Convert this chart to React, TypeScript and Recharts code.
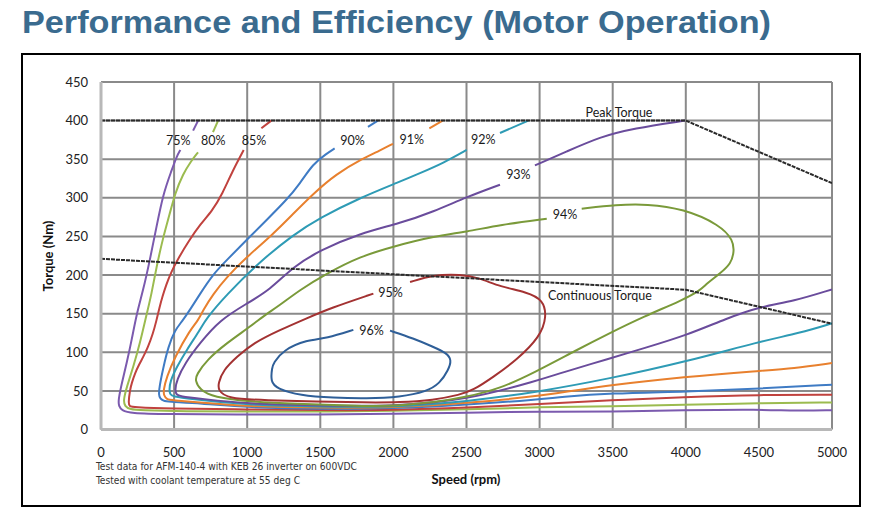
import React from 'react';
import { ComposedChart, Line, Scatter, XAxis, YAxis, CartesianGrid } from 'recharts';

type P = [number, number];

const speedTicks = [0, 500, 1000, 1500, 2000, 2500, 3000, 3500, 4000, 4500, 5000];
const torqueTicks = [0, 50, 100, 150, 200, 250, 300, 350, 400, 450];

const peakTorque: P[] = [[0, 400], [4000, 400], [5000, 319]];
const continuousTorque: P[] = [[0, 221], [2000, 201], [4000, 181], [5000, 137]];

const eff75a: P[] = [[630, 387], [664, 400]];
const eff75b: P[] = [[543, 362], [516, 353], [482, 335], [425, 305], [379, 262], [334, 219], [288, 180], [244, 150], [210, 116], [176, 86], [142, 60], [118, 38], [122, 30], [142, 25], [198, 21], [449, 20], [905, 19.5], [1500, 19.5], [2000, 20], [2500, 22], [2996, 23], [3495, 23], [3981, 25], [4507, 26], [4758, 24], [5000, 25]];

const eff80a: P[] = [[766, 385], [801, 400]];
const eff80b: P[] = [[664, 359], [618, 348], [561, 331], [505, 305], [470, 279], [425, 249], [379, 210], [345, 175], [313, 150], [267, 112], [221, 81], [176, 55], [153, 38], [162, 30], [200, 26], [267, 25], [563, 23.5], [1000, 23.5], [1500, 23], [2000, 24], [2500, 26], [3000, 29], [3495, 30], [3981, 32], [4507, 34], [5000, 35]];

const eff85a: P[] = [[1097, 390], [1165, 400]];
const eff85b: P[] = [[976, 362], [900, 335], [830, 305], [760, 283], [680, 266], [600, 244], [530, 222], [480, 204], [445, 187], [420, 172], [400, 158], [378, 140], [355, 124], [320, 106], [289, 94], [260, 84], [233, 73], [210, 60], [198, 51], [187, 34], [195, 30], [221, 29], [449, 27], [1000, 26], [1500, 25], [2000, 25], [2500, 28], [3000, 33], [3495, 38], [3981, 42], [4507, 45], [5000, 45]];

const eff90a: P[] = [[1826, 392], [1894, 400]];
const eff90b: P[] = [[1598, 364], [1541, 357], [1450, 344], [1359, 318], [1268, 297], [1131, 271], [994, 245], [858, 219], [766, 201], [675, 175], [609, 155], [555, 140], [506, 129], [460, 107], [427, 81], [399, 55], [395, 45], [404, 40], [430, 37], [449, 36], [677, 34], [1000, 28.5], [1500, 26.5], [2000, 27], [2500, 32], [3000, 39], [3140, 42], [3481, 47], [4006, 49], [4507, 53], [5000, 58]];

const eff91a: P[] = [[2246, 390], [2337, 400]];
const eff91b: P[] = [[1997, 370], [1905, 361], [1792, 351], [1609, 331], [1450, 305], [1313, 279], [1177, 253], [994, 223], [858, 197], [766, 175], [700, 155], [664, 141], [609, 129], [506, 94], [449, 68], [427, 51], [430, 44], [450, 39], [483, 38], [677, 35], [1000, 30], [1500, 28], [2000, 28], [2500, 34], [3000, 43], [3495, 58], [3981, 68], [4507, 76], [4735, 79], [5000, 86]];

const eff92a: P[] = [[2729, 384], [2923, 400]];
const eff92b: P[] = [[2501, 362], [2341, 345], [2182, 332], [2045, 321], [1771, 300], [1496, 274], [1313, 252], [1084, 217], [855, 174], [717, 143], [677, 129], [586, 103], [518, 81], [472, 62], [467, 51], [473, 45], [495, 43], [586, 40], [1000, 31.5], [1500, 29.5], [2000, 29], [2500, 36], [3000, 49], [3481, 66], [4006, 88], [4507, 114], [4781, 125], [5000, 137.5]];

const eff93a: P[] = [[2968, 342], [3185, 360], [3413, 379], [3641, 390], [3994, 400]];
const eff93b: P[] = [[2729, 317], [2501, 301], [2273, 282], [2045, 267], [1771, 254], [1498, 232], [1315, 211], [1156, 181], [997, 163], [814, 142], [677, 112], [575, 86], [518, 64], [506, 51], [515, 45], [540, 43], [677, 40], [1000, 33], [1500, 31], [2000, 30], [2500, 38], [3000, 64], [3140, 73], [3481, 92], [3709, 105], [4006, 122], [4280, 144], [4507, 159], [4735, 166], [5000, 181.5]];

const eff94: P[] = [[3288, 286], [3527, 291], [3733, 292], [3983, 286], [4234, 265], [4325, 245], [4330, 230], [4310, 215], [4234, 202], [4143, 189], [4097, 180], [3983, 168], [3709, 146], [3481, 125], [3254, 103], [2957, 73], [2729, 53], [2501, 42], [2273, 35], [2045, 31], [1817, 30], [1589, 32], [1361, 33], [1019, 36], [768, 42], [677, 51], [643, 64], [654, 71], [723, 90], [860, 112], [1019, 133], [1133, 150], [1202, 158], [1361, 181], [1544, 202], [1771, 224], [2000, 237], [2273, 250], [2501, 256], [2729, 265], [3049, 273]];

const eff95: P[] = [[2114, 191], [2273, 200], [2456, 201], [2592, 196], [2729, 185], [2912, 178], [3025, 168], [3049, 146], [3003, 120], [2843, 90], [2683, 68], [2547, 51], [2456, 45], [2273, 38], [2045, 35], [1800, 35], [1475, 36], [1133, 38], [860, 40], [802, 51], [802, 60], [837, 77], [928, 94], [1042, 112], [1224, 129], [1407, 144], [1566, 157], [1863, 176]];

const eff96: P[] = [[1977, 128], [2137, 118], [2273, 107], [2364, 99], [2399, 90], [2376, 77], [2319, 60], [2228, 49], [2045, 42], [1817, 40], [1589, 41], [1361, 44], [1202, 53], [1160, 62], [1170, 80], [1179, 86], [1247, 103], [1407, 116], [1544, 118], [1726, 129]];

const labelPoints = [
  { x: 529, y: 374, t: '75%' },
  { x: 768, y: 374, t: '80%' },
  { x: 1047, y: 374, t: '85%' },
  { x: 1721, y: 374, t: '90%' },
  { x: 2125, y: 375, t: '91%' },
  { x: 2615, y: 375, t: '92%' },
  { x: 2855, y: 330, t: '93%' },
  { x: 3174, y: 279, t: '94%' },
  { x: 1981, y: 177, t: '95%' },
  { x: 1851, y: 128, t: '96%' },
  { x: 3543, y: 411, t: 'Peak Torque' },
  { x: 3413, y: 173, t: 'Continuous Torque' },
];

const titleText = 'Performance and Efficiency (Motor Operation)';
const footnoteLines = ['Test data for AFM-140-4 with KEB 26 inverter on 600VDC', 'Tested with coolant temperature at 55 deg C'];

const toPts = (a: P[]) => a.map(([x, y]) => ({ x, y }));

const series: { d: P[]; c: string }[] = [
  { d: eff75a, c: '#7B5AAE' }, { d: eff75b, c: '#7B5AAE' },
  { d: eff80a, c: '#9BBB4F' }, { d: eff80b, c: '#9BBB4F' },
  { d: eff85a, c: '#C0423E' }, { d: eff85b, c: '#C0423E' },
  { d: eff90a, c: '#3F7BC4' }, { d: eff90b, c: '#3F7BC4' },
  { d: eff91a, c: '#E8802E' }, { d: eff91b, c: '#E8802E' },
  { d: eff92a, c: '#2E9BB5' }, { d: eff92b, c: '#2E9BB5' },
  { d: eff93a, c: '#6A4C9C' }, { d: eff93b, c: '#6A4C9C' },
  { d: eff94, c: '#7A9A3A' },
  { d: eff95, c: '#A33232' },
  { d: eff96, c: '#2F5F98' },
];

const labelFont = 'Lato, "Open Sans", sans-serif';

const LabelShape = (props: any) => {
  const { cx, cy, payload } = props;
  return (
    <text x={cx} y={cy} textAnchor="middle" dominantBaseline="central" fontFamily={labelFont} fontSize={12.5} fill="#1a1a1a">
      {payload.t}
    </text>
  );
};

export default function App() {
  return (
    <div style={{ position: 'absolute', left: 0, top: 0, width: 876, height: 522, background: '#fff', overflow: 'hidden' }}>
      <svg width={876} height={52} style={{ position: 'absolute', left: 0, top: 0 }}>
        <text x={22} y={33} textLength={749} lengthAdjust="spacingAndGlyphs" fontFamily='"Liberation Sans", Arial, sans-serif' fontWeight="bold" fontSize={32} fill="#3A6B8F">
          {titleText}
        </text>
      </svg>
      <div style={{ position: 'absolute', left: 21, top: 53, width: 840, height: 454, border: '2px solid #000', boxSizing: 'border-box' }} />
      <div style={{ position: 'absolute', left: 0, top: 0 }}>
        <ComposedChart width={876} height={522} margin={{ top: 82, right: 44, bottom: 52.5, left: 41 }}>
          <CartesianGrid stroke="#8a8a8a" strokeWidth={2} />
          <XAxis
            type="number"
            dataKey="x"
            domain={[0, 5000]}
            ticks={speedTicks}
            allowDataOverflow
            height={40}
            tickLine={false}
            tickSize={0}
            tickMargin={18}
            axisLine={{ stroke: '#b8b8b8', strokeWidth: 3 }}
            tick={{ fontFamily: labelFont, fontSize: 13, fill: '#222' }}
          />
          <YAxis
            type="number"
            dataKey="y"
            domain={[0, 450]}
            ticks={torqueTicks}
            allowDataOverflow
            width={60}
            tickLine={false}
            tickSize={0}
            tickMargin={13}
            axisLine={{ stroke: '#b8b8b8', strokeWidth: 3 }}
            tick={{ fontFamily: labelFont, fontSize: 13, fill: '#222' }}
          />
          {series.map((s, i) => (
            <Line
              key={i}
              data={toPts(s.d)}
              dataKey="y"
              type="basis"
              stroke={s.c}
              strokeWidth={2}
              dot={false}
              activeDot={false}
              isAnimationActive={false}
            />
          ))}
          <Line data={toPts(peakTorque)} dataKey="y" type="linear" stroke="#2a2a2a" strokeWidth={2} strokeDasharray="4 1" dot={false} activeDot={false} isAnimationActive={false} />
          <Line data={toPts(continuousTorque)} dataKey="y" type="linear" stroke="#2a2a2a" strokeWidth={2} strokeDasharray="4 1" dot={false} activeDot={false} isAnimationActive={false} />
          <Scatter data={labelPoints} dataKey="y" shape={LabelShape} isAnimationActive={false} />
        </ComposedChart>
      </div>
      <div style={{ position: 'absolute', left: 10, top: 256, width: 76, textAlign: 'center', transform: 'translateY(-50%) rotate(-90deg)', fontFamily: labelFont, fontWeight: 'bold', fontSize: 13, color: '#111', whiteSpace: 'nowrap', lineHeight: '16px' }}>
        Torque (Nm)
      </div>
      <div style={{ position: 'absolute', left: 416, top: 471, width: 100, textAlign: 'center', fontFamily: labelFont, fontWeight: 'bold', fontSize: 13, color: '#111', whiteSpace: 'nowrap', lineHeight: '16px' }}>
        Speed (rpm)
      </div>
      <svg width={300} height={30} style={{ position: 'absolute', left: 90, top: 458 }}>
        <text x={6} y={12} textLength={261} lengthAdjust="spacingAndGlyphs" fontFamily='"DejaVu Sans Condensed", "DejaVu Sans", sans-serif' fontSize={11} fill="#333">
          {footnoteLines[0]}
        </text>
        <text x={6} y={25.5} textLength={204} lengthAdjust="spacingAndGlyphs" fontFamily='"DejaVu Sans Condensed", "DejaVu Sans", sans-serif' fontSize={11} fill="#333">
          {footnoteLines[1]}
        </text>
      </svg>
    </div>
  );
}
